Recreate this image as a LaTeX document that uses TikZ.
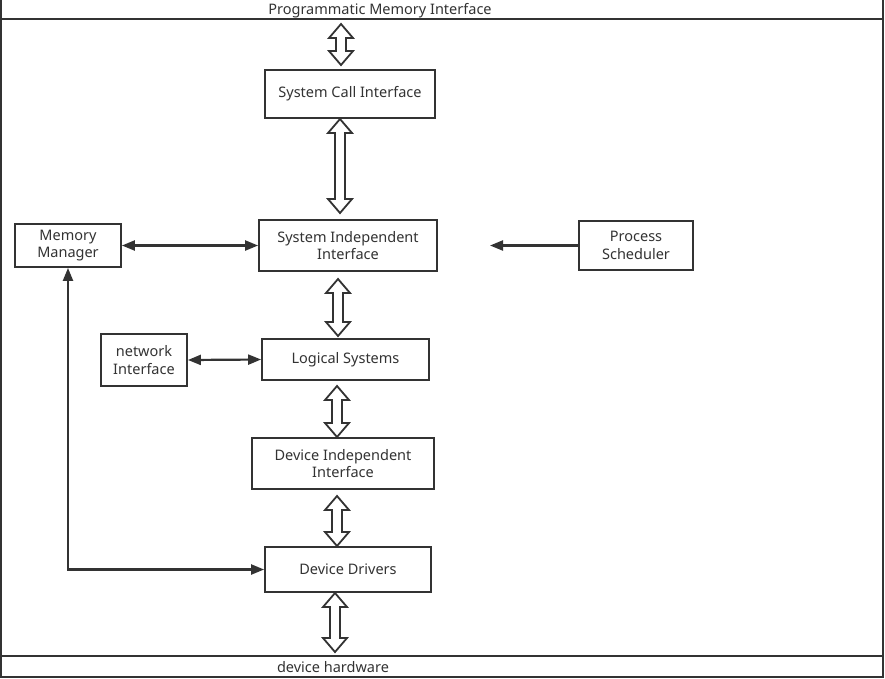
\documentclass[tikz,border=0pt]{standalone}
\usepackage{fontspec}
\setmainfont{Noto Sans}
\usetikzlibrary{arrows.meta,calc}
\definecolor{ink}{HTML}{333333}
\newcommand{\hollowarrow}[2]{%
  \draw[hollow] (#1) -- ($(#1)+(12,14)$) -- ($(#1)+(5,14)$) -- ($(#2)+(5,-14)$) -- ($(#2)+(12,-14)$) -- (#2)
    -- ($(#2)+(-12,-14)$) -- ($(#2)+(-5,-14)$) -- ($(#1)+(-5,14)$) -- ($(#1)+(-12,14)$) -- cycle;}
\begin{document}
\begin{tikzpicture}[x=1pt,y=-1pt,
  font=\fontsize{14.5}{17.5}\selectfont,
  box/.style={draw=ink,line width=1.8pt,fill=white,text=ink,align=center,inner sep=0pt},
  conn/.style={draw=ink,line width=2.2pt,{Triangle[length=13pt,width=10pt]}-{Triangle[length=13pt,width=10pt]}},
  oneway/.style={draw=ink,line width=2.2pt,-{Triangle[length=13pt,width=10pt]}},
  hollow/.style={draw=ink,line width=1.8pt,fill=white,line join=miter},
  frame/.style={draw=ink,line width=1.8pt}]
\useasboundingbox (0,0) rectangle (885,678);
% frame
\draw[frame] (1,0) -- (1,677) -- (883,677) -- (883,0);
\draw[frame] (1,19) -- (883,19);
\draw[frame] (1,656) -- (883,656);
\node[text=ink] (pmi) at (380,10.5) {Programmatic Memory Interface};
\node[text=ink] (hw) at (333,667) {device hardware};
% boxes
\node[box,minimum width=170pt,minimum height=48pt] (sci) at (350,94) {System Call Interface};
\node[box,minimum width=178pt,minimum height=51pt] (sii) at (348,245.5) {System Independent\\Interface};
\node[box,minimum width=106pt,minimum height=43pt] (mm) at (68,245.5) {Memory\\Manager};
\node[box,minimum width=114pt,minimum height=49pt] (ps) at (636,245.5) {Process\\Scheduler};
\node[box,minimum width=86pt,minimum height=52pt] (ni) at (144,360) {network\\Interface};
\node[box,minimum width=167pt,minimum height=41pt] (ls) at (345.5,359.5) {Logical Systems};
\node[box,minimum width=182pt,minimum height=51pt] (dii) at (343,463.5) {Device Independent\\Interface};
\node[box,minimum width=166pt,minimum height=45pt] (dd) at (348,569.5) {Device Drivers};
% hollow double arrows
\coordinate (a1t) at (341,24); \coordinate (a1b) at (341,65);
\coordinate (a2t) at (340,119); \coordinate (a2b) at (340,213);
\coordinate (a3t) at (338,279); \coordinate (a3b) at (338,336);
\coordinate (a4t) at (337,386); \coordinate (a4b) at (337,437);
\coordinate (a5t) at (337,496); \coordinate (a5b) at (337,546);
\coordinate (a6t) at (335,593); \coordinate (a6b) at (335,652);
\hollowarrow{a1t}{a1b}
\hollowarrow{a2t}{a2b}
\hollowarrow{a3t}{a3b}
\hollowarrow{a4t}{a4b}
\hollowarrow{a5t}{a5b}
\hollowarrow{a6t}{a6b}
% single arrows
\draw[conn] (mm.east) -- (sii.west);
\draw[conn] (ni.east) -- (ls.west);
\coordinate (psend) at (490,245.5);
\draw[oneway] (ps.west) -- (psend);
\draw[conn] (mm.south) |- (dd.west);
\end{tikzpicture}
\end{document}
